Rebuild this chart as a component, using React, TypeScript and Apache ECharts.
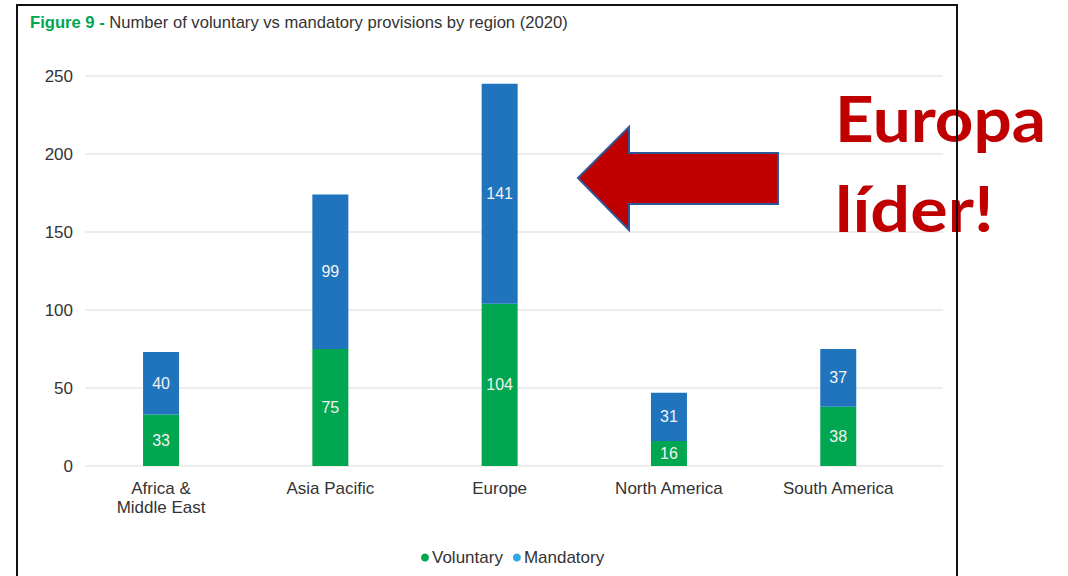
import React, { useEffect, useRef } from "react";
import * as echarts from "echarts";

const categories = ["Africa &\nMiddle East", "Asia Pacific", "Europe", "North America", "South America"];
const voluntary = [33, 75, 104, 16, 38];
const mandatory = [40, 99, 141, 31, 37];
const yTicks = { min: 0, max: 250, interval: 50 };

const GREEN = "#00A650";
const BLUE = "#1F74BD";
const FONT = "'Liberation Sans', Arial, sans-serif";

export default function App() {
  const ref = useRef<HTMLDivElement>(null);
  useEffect(() => {
    const chart = echarts.init(ref.current!, null, { renderer: "svg" });
    chart.setOption({
      animation: false,
      backgroundColor: "#ffffff",
      textStyle: { fontFamily: FONT },
      title: {
        left: 25,
        top: 9,
        text: "{g|Figure 9 - }{t|Number of voluntary vs mandatory provisions by region (2020)}",
        textStyle: {
          rich: {
            g: { color: GREEN, fontWeight: "bold", fontSize: 16.6, fontFamily: FONT },
            t: { color: "#333333", fontWeight: "normal", fontSize: 16.6, fontFamily: FONT },
          },
        },
      },
      legend: {
        bottom: 5,
        left: 416,
        icon: "circle",
        itemWidth: 8,
        itemHeight: 8,
        itemGap: 10,
        textStyle: { fontSize: 17, color: "#333333", fontFamily: FONT, padding: [0, 0, 0, -2] },
        data: [
          { name: "Voluntary", itemStyle: { color: GREEN } },
          { name: "Mandatory", itemStyle: { color: "#2EA9E1" } },
        ],
      },
      grid: [
        { left: 85, right: 125, top: 76, bottom: 110 },
        { left: 76.4, right: 145.1, top: 76, bottom: 110 },
      ],
      xAxis: [
        { type: "value", gridIndex: 0, show: false, min: 0, max: 1 },
        {
          type: "category",
          gridIndex: 1,
          data: categories,
          axisLine: { show: false },
          axisTick: { show: false },
          axisLabel: { color: "#333333", fontSize: 17, margin: 13, lineHeight: 19, fontFamily: FONT },
        },
      ],
      yAxis: [
        {
          type: "value",
          gridIndex: 0,
          ...yTicks,
          axisLine: { show: false },
          axisTick: { show: false },
          axisLabel: { color: "#333333", fontSize: 17, margin: 12, fontFamily: FONT },
          splitLine: { lineStyle: { color: "#EDEDED", width: 2 } },
        },
        {
          type: "value",
          gridIndex: 1,
          ...yTicks,
          show: false,
          splitLine: { show: false },
        },
      ],
      series: [
        {
          name: "Voluntary",
          type: "bar",
          stack: "s",
          xAxisIndex: 1,
          yAxisIndex: 1,
          barWidth: 36,
          data: voluntary,
          itemStyle: { color: GREEN },
          label: { show: true, position: "inside", color: "#F2F2F2", fontSize: 16, fontFamily: FONT },
        },
        {
          name: "Mandatory",
          type: "bar",
          stack: "s",
          xAxisIndex: 1,
          yAxisIndex: 1,
          barWidth: 36,
          data: mandatory,
          itemStyle: { color: BLUE },
          label: { show: true, position: "inside", color: "#F2F2F2", fontSize: 16, fontFamily: FONT },
        },
      ],
      graphic: [
        {
          type: "polygon",
          z: 100,
          shape: {
            points: [
              [578, 178],
              [629, 127],
              [629, 153],
              [778, 153],
              [778, 204],
              [629, 204],
              [629, 230],
            ],
          },
          style: { fill: "#C00000", stroke: "#2F5597", lineWidth: 2 },
        },
        {
          type: "text",
          z: 100,
          x: 835,
          y: 149,
          scaleX: 1.07,
          style: {
            text: "Europa",
            fill: "#C00000",
            font: "bold 63px Lato, 'Liberation Sans', sans-serif",
            verticalAlign: "bottom",
          },
        },
        {
          type: "text",
          z: 100,
          x: 835,
          y: 239,
          scaleX: 1.115,
          style: {
            text: "líder!",
            fill: "#C00000",
            font: "bold 63px Lato, 'Liberation Sans', sans-serif",
            verticalAlign: "bottom",
          },
        },
        {
          type: "rect",
          z: 101,
          shape: { x: 17, y: 5, width: 940, height: 620 },
          style: { fill: "none", stroke: "#111111", lineWidth: 2 },
        },
      ],
    });
    return () => chart.dispose();
  }, []);
  return <div ref={ref} style={{ position: "fixed", left: 0, top: 0, width: 1068, height: 576 }} />;
}
